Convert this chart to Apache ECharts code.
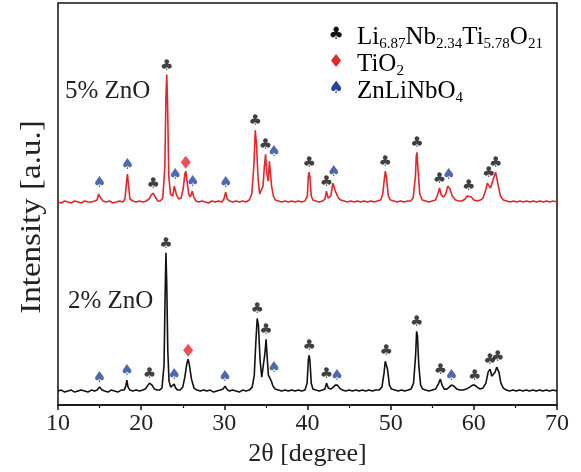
<!DOCTYPE html>
<html>
<head>
<meta charset="utf-8">
<script src="https://cdn.jsdelivr.net/npm/echarts@6/dist/echarts.min.js"></script>
<style>
html,body{margin:0;padding:0;background:#fff;}
#c{width:581px;height:472px;}
</style>
</head>
<body>
<div id="c"></div>
<script>
// ---------- data ----------
const xTickLabels = ['10','20','30','40','50','60','70'];
const RED_OFFSET = 190;
// 2% ZnO (black) pattern [2θ, intensity]
const black2 = [[10.0,14],[10.4,15],[10.8,13],[11.2,14],[11.6,15],[12.0,13],[12.4,14],[12.8,15],[13.2,14],[13.6,13],[14.0,15],[14.4,14],[14.7,15],[15.0,18],[15.3,15],[15.6,14],[16.0,13],[16.4,15],[16.8,14],[17.2,13],[17.6,15],[17.95,15],[18.15,19],[18.28,25],[18.42,18],[18.65,15],[19.0,14],[19.4,15],[19.8,14],[20.2,15],[20.5,16],[20.75,19],[21.0,22],[21.3,20],[21.6,16],[21.9,15],[22.2,15],[22.5,17],[22.75,40],[22.88,110],[22.98,153],[23.08,120],[23.2,55],[23.35,24],[23.55,18],[23.78,17],[23.96,21],[24.15,17],[24.4,15],[24.7,15],[25.0,18],[25.25,28],[25.5,42],[25.65,46],[25.8,40],[26.05,26],[26.35,17],[26.7,15],[27.1,14],[27.5,15],[27.9,14],[28.3,15],[28.7,13],[29.1,14],[29.5,15],[29.85,16],[30.08,19],[30.3,16],[30.6,14],[31.0,15],[31.4,14],[31.8,13],[32.2,15],[32.6,14],[33.0,15],[33.35,18],[33.6,30],[33.8,65],[33.95,87],[34.1,80],[34.3,45],[34.5,28],[34.7,30],[34.88,52],[35.02,66],[35.15,48],[35.3,30],[35.48,28],[35.65,24],[35.85,19],[36.1,16],[36.5,15],[36.9,14],[37.3,15],[37.7,14],[38.1,15],[38.5,14],[38.9,15],[39.3,14],[39.7,15],[39.95,22],[40.1,45],[40.2,50],[40.3,44],[40.45,22],[40.65,16],[41.0,15],[41.4,14],[41.8,15],[42.1,16],[42.28,22],[42.5,17],[42.8,16],[43.1,18],[43.35,20],[43.6,20],[43.85,17],[44.2,15],[44.6,14],[45.0,15],[45.4,14],[45.8,15],[46.2,14],[46.6,15],[47.0,14],[47.4,15],[47.8,14],[48.2,15],[48.6,15],[48.95,18],[49.2,32],[49.35,44],[49.48,45],[49.62,36],[49.85,20],[50.1,16],[50.5,15],[50.9,14],[51.3,15],[51.7,14],[52.1,15],[52.45,16],[52.75,22],[53.0,50],[53.12,74],[53.22,70],[53.38,40],[53.6,20],[53.85,16],[54.2,15],[54.6,14],[55.0,15],[55.4,16],[55.72,21],[55.98,26],[56.18,20],[56.45,16],[56.75,16],[57.05,18],[57.3,20],[57.6,19],[57.95,16],[58.3,15],[58.7,15],[59.1,16],[59.5,18],[59.85,20],[60.1,20],[60.4,18],[60.75,16],[61.1,17],[61.45,22],[61.72,33],[61.95,36],[62.15,29],[62.35,27],[62.55,33],[62.75,38],[62.88,39],[63.02,33],[63.25,22],[63.55,17],[63.9,15],[64.3,14],[64.7,15],[65.1,14],[65.5,15],[65.9,14],[66.3,15],[66.7,14],[67.1,15],[67.5,14],[67.9,15],[68.3,14],[68.7,15],[69.1,14],[69.5,15],[70.0,14]];
// 5% ZnO (red) pattern [2θ, intensity] (drawn shifted up by RED_OFFSET)
const red5 = [[10.0,14],[10.4,13],[10.8,15],[11.2,14],[11.6,13],[12.0,15],[12.4,14],[12.8,13],[13.2,15],[13.6,14],[14.0,14],[14.4,15],[14.7,16],[14.88,22],[15.0,24],[15.14,18],[15.4,15],[15.8,14],[16.2,15],[16.6,13],[17.0,14],[17.4,15],[17.8,14],[18.05,17],[18.25,35],[18.35,42],[18.45,33],[18.65,17],[19.0,15],[19.4,14],[19.8,15],[20.2,14],[20.6,15],[20.95,17],[21.2,21],[21.45,23],[21.7,19],[22.0,15],[22.3,15],[22.6,18],[22.85,50],[22.98,120],[23.08,142],[23.18,110],[23.32,40],[23.52,22],[23.8,20],[23.98,30],[24.08,32],[24.22,22],[24.5,17],[24.8,18],[25.05,27],[25.25,42],[25.36,45],[25.5,36],[25.72,22],[25.92,19],[26.15,25],[26.32,19],[26.6,15],[26.9,14],[27.3,15],[27.7,14],[28.1,13],[28.5,15],[28.9,14],[29.3,15],[29.7,14],[29.95,17],[30.16,24],[30.35,17],[30.65,15],[31.0,14],[31.4,15],[31.8,14],[32.2,15],[32.6,14],[33.0,16],[33.3,22],[33.55,50],[33.72,86],[33.87,72],[34.05,38],[34.25,22],[34.45,20],[34.65,30],[34.82,50],[34.96,62],[35.12,42],[35.28,35],[35.42,55],[35.52,54],[35.68,30],[35.9,20],[36.15,16],[36.5,15],[36.9,14],[37.3,15],[37.7,14],[38.1,15],[38.5,14],[38.9,15],[39.3,14],[39.7,15],[39.98,20],[40.1,40],[40.2,44],[40.3,38],[40.45,20],[40.65,16],[41.0,15],[41.4,14],[41.8,15],[42.1,17],[42.28,25],[42.48,18],[42.8,20],[43.05,33],[43.16,35],[43.3,26],[43.5,22],[43.72,18],[44.0,16],[44.4,15],[44.8,14],[45.2,15],[45.6,14],[46.0,15],[46.4,14],[46.8,15],[47.2,14],[47.6,15],[48.0,14],[48.4,15],[48.8,16],[49.05,22],[49.25,38],[49.36,45],[49.5,38],[49.72,20],[49.98,16],[50.4,15],[50.8,14],[51.2,15],[51.6,14],[52.0,15],[52.4,15],[52.7,18],[52.98,40],[53.08,60],[53.16,64],[53.3,45],[53.5,22],[53.8,16],[54.2,15],[54.6,14],[55.0,15],[55.4,16],[55.68,22],[55.88,28],[56.08,21],[56.35,19],[56.62,22],[56.86,30],[56.99,32],[57.14,27],[57.4,20],[57.8,16],[58.2,15],[58.6,15],[58.95,17],[59.2,20],[59.4,21],[59.7,19],[60.0,16],[60.4,15],[60.8,16],[61.1,18],[61.4,25],[61.62,33],[61.8,34],[62.0,28],[62.2,30],[62.45,40],[62.62,44],[62.76,42],[62.95,30],[63.2,20],[63.55,16],[63.95,15],[64.35,14],[64.75,15],[65.15,14],[65.55,15],[65.95,14],[66.35,15],[66.75,14],[67.15,15],[67.55,14],[67.95,15],[68.35,14],[68.75,15],[69.15,14],[69.55,15],[70.0,14]];
// phase reflections marked on each pattern (2θ)
const blackLNTO = [21.0,22.98,33.95,35.02,40.2,42.28,49.48,53.12,55.98,60.1,61.95,62.88];
const blackTiO2 = [25.65];
const blackZLNO = [15.0,18.28,23.96,30.08,35.96,43.55,57.3];
const redLNTO = [21.45,23.08,33.72,34.96,40.2,42.28,49.36,53.16,55.88,59.4,61.8,62.62];
const redTiO2 = [25.36];
const redZLNO = [15.0,18.35,24.08,26.2,30.16,35.96,43.16,56.99];

// ---------- build ----------
const SERIF = '"Liberation Serif","Times New Roman",serif';
const redShifted = red5.map(p => [p[0], p[1] + RED_OFFSET]);
const GAP = 9;
function markers(list, pattern, off) {
  return list.map(x => {
    let top = 0;
    pattern.forEach(p => { if (Math.abs(p[0] - x) <= 0.55 && p[1] > top) top = p[1]; });
    return [x, top + off + GAP];
  });
}
const clubPts = markers(blackLNTO, black2, 0).concat(markers(redLNTO, red5, RED_OFFSET));
const spadePts = markers(blackZLNO, black2, 0).concat(markers(redZLNO, red5, RED_OFFSET));
const diamPts = markers(blackTiO2, black2, 0).concat(markers(redTiO2, red5, RED_OFFSET));

const chart = echarts.init(document.getElementById('c'), null, {renderer: 'canvas'});
const glyphSeries = (name, data, glyph, color, size) => ({
  name, type: 'scatter', data, symbolSize: 1, z: 5,
  itemStyle: {color: 'rgba(0,0,0,0)'},
  label: {show: true, position: 'inside', formatter: glyph, color, fontSize: size,
          fontFamily: '"DejaVu Sans"'},
  silent: true
});
const sub = {fontFamily: SERIF, fontSize: 15, color: '#222', lineHeight: 14, verticalAlign: 'bottom'};
const nrm = {fontFamily: SERIF, fontSize: 25, color: '#222', lineHeight: 30};
chart.setOption({
  animation: false,
  backgroundColor: '#fff',
  grid: {left: 58, right: 24, top: 3, bottom: 65, show: true, borderColor: '#111', borderWidth: 1.5},
  xAxis: {
    type: 'value', min: 10, max: 70, interval: 10,
    axisLine: {lineStyle: {color: '#111', width: 1.5}},
    axisTick: {show: true, length: 5, lineStyle: {color: '#111', width: 1.5}},
    minorTick: {show: true, splitNumber: 2, length: 3, lineStyle: {color: '#111', width: 1.2}},
    splitLine: {show: false},
    axisLabel: {fontFamily: SERIF, fontSize: 24, color: '#222', margin: 7,
                formatter: v => xTickLabels[Math.round((v - 10) / 10)]},
    name: '2θ [degree]', nameLocation: 'middle', nameGap: 36,
    nameTextStyle: {fontFamily: SERIF, fontSize: 26, color: '#222'}
  },
  yAxis: {
    type: 'value', min: 0, max: 404,
    axisLine: {show: false}, axisTick: {show: false}, axisLabel: {show: false}, splitLine: {show: false}
  },
  series: [
    {name: '2% ZnO', type: 'line', data: black2, showSymbol: false, symbol: 'none',
     lineStyle: {color: '#111', width: 1.6}, z: 2},
    {name: '5% ZnO', type: 'line', data: redShifted, showSymbol: false, symbol: 'none',
     lineStyle: {color: '#e3262b', width: 1.6}, z: 2},
    glyphSeries('Li6.87Nb2.34Ti5.78O21', clubPts, '♣', '#111', 15),
    glyphSeries('ZnLiNbO4', spadePts, '♠', '#24449a', 15),
    {name: 'TiO2', type: 'scatter', data: diamPts, symbol: 'diamond', symbolSize: [10, 13],
     itemStyle: {color: '#e3262b'}, z: 5, silent: true}
  ],
  graphic: [
    {type: 'text', left: 65, top: 79, style: {text: '5% ZnO', font: '25px ' + SERIF, fill: '#222'}},
    {type: 'text', left: 68, top: 289, style: {text: '2% ZnO', font: '25px ' + SERIF, fill: '#222'}},
    {type: 'text', x: 32, y: 217, rotation: Math.PI / 2, scaleX: 1.1,
     style: {text: 'Intensity [a.u.]', font: '30px ' + SERIF, fill: '#222', align: 'center', verticalAlign: 'middle'}},
    {type: 'text', x: 336, y: 35, style: {text: '♣', font: '17px "DejaVu Sans"', fill: '#111', align: 'center', verticalAlign: 'middle'}},
    {type: 'text', x: 336, y: 62, style: {text: '♦', font: '18px "DejaVu Sans"', fill: '#e3262b', align: 'center', verticalAlign: 'middle'}},
    {type: 'text', x: 336, y: 89, style: {text: '♠', font: '17px "DejaVu Sans"', fill: '#24449a', align: 'center', verticalAlign: 'middle'}},
    {type: 'text', x: 357, y: 37, style: {text: '{n|Li}{s|6.87}{n|Nb}{s|2.34}{n|Ti}{s|5.78}{n|O}{s|21}', rich: {n: nrm, s: sub}, verticalAlign: 'middle'}},
    {type: 'text', x: 357, y: 64, style: {text: '{n|TiO}{s|2}', rich: {n: nrm, s: sub}, verticalAlign: 'middle'}},
    {type: 'text', x: 357, y: 91, style: {text: '{n|ZnLiNbO}{s|4}', rich: {n: nrm, s: sub}, verticalAlign: 'middle'}}
  ]
});
</script>
</body>
</html>
